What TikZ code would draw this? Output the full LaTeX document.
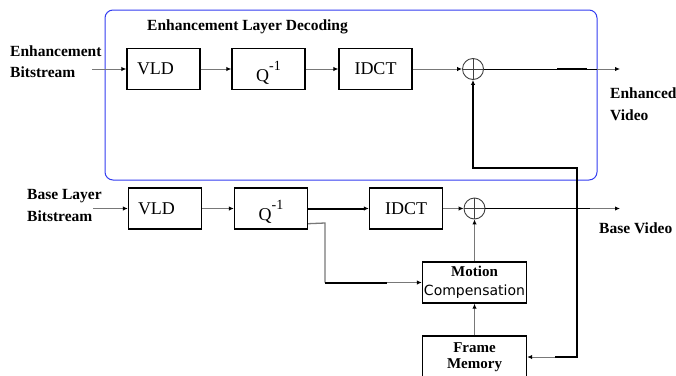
\documentclass[tikz,border=0pt]{standalone}
\usepackage{fontspec}
\setmainfont{Liberation Serif}
\newfontfamily\dvsans{DejaVu Sans}
\usetikzlibrary{arrows.meta,calc}
\definecolor{ln}{RGB}{120,120,120}
\definecolor{frameblue}{RGB}{50,60,240}
\newcommand\qinv{Q\raisebox{11pt}{\fontsize{14}{14}\selectfont -1}}
\begin{document}
\begin{tikzpicture}[x=1pt,y=-1pt,
 blk/.style={draw=black,line width=1.4pt,minimum width=73pt,minimum height=41pt,inner sep=0pt,font=\fontsize{18}{20}\selectfont},
 qblk/.style={blk,text height=24pt,text depth=0pt},
 sumc/.style={circle,draw=black!75,line width=0.9pt,minimum size=21pt,inner sep=0pt},
 lbl/.style={font=\bfseries\fontsize{15.5}{21}\selectfont,align=left,inner sep=0pt},
 g/.style={draw=ln,line width=1pt},
 k/.style={draw=black,line width=2pt},
 tip/.style={-{Latex[length=5pt,width=4.5pt,color=black]}},
]
\useasboundingbox (0,0) rectangle (676,375);
\clip (0,0) rectangle (676,375);

% enhancement layer enclosure
\node[draw=frameblue,line width=1pt,rounded corners=8pt,minimum width=492pt,minimum height=170pt,inner sep=0pt] (enh) at (351,95) {};
\node[lbl,anchor=west] (title) at (147,27) {Enhancement Layer Decoding};

% enhancement row
\node[blk,text width=53pt,inner xsep=10pt,align=left] (eVLD) at (163.5,69) {VLD};
\node[qblk] (eQ) at (268.5,69) {\qinv};
\node[blk] (eIDCT) at (375.5,69) {IDCT};
\node[sumc] (eS) at (473,69) {};
\draw[black!75,line width=0.9pt] (eS.north) -- (eS.south) (eS.west) -- (eS.east);

% base row
\node[blk,text width=54pt,inner xsep=9pt,align=left] (bVLD) at (165,208.5) {VLD};
\node[qblk] (bQ) at (271,208.5) {\qinv};
\node[blk] (bIDCT) at (406,208.5) {IDCT};
\node[sumc] (bS) at (474.5,208.5) {};
\draw[black!75,line width=0.9pt] (bS.north) -- (bS.south) (bS.west) -- (bS.east);

\node[blk,minimum width=104pt,align=center,font=\bfseries\fontsize{15}{19}\selectfont] (MC) at (474.5,282.5)
  {Motion\\{\dvsans\mdseries\fontsize{14}{19}\selectfont Compensation}};
\node[blk,minimum width=104pt,minimum height=42pt,align=center,font=\bfseries\fontsize{15}{16}\selectfont] (FM) at (474.5,357)
  {Frame\\Memory};

% labels
\node[lbl,anchor=west] (eInL) at (10,61.5) {Enhancement\\Bitstream};
\node[lbl,anchor=west,font=\bfseries\fontsize{15.5}{22}\selectfont] (bInL) at (27,205) {Base Layer\\Bitstream};
\node[lbl,anchor=west,font=\bfseries\fontsize{15.5}{22}\selectfont] (eOutL) at (610,104) {Enhanced\\Video};
\node[lbl,anchor=west] (bOutL) at (599,228) {Base Video};

% enhancement connectors
\coordinate (eIn) at (92,69);
\draw[g,tip] (eIn) -- (eVLD.west);
\draw[g,tip] (eVLD) -- (eQ);
\draw[g,tip] (eQ) -- (eIDCT);
\draw[g,tip] (eIDCT) -- (eS);
\coordinate (eA) at (557,69);
\coordinate (eB) at (587,69);
\coordinate (eC) at (597,69);
\coordinate (eOut) at (620,69);
\draw[black,line width=1pt] (eS.east) -- (eC);
\draw[k] (eA) -- (eB);
\draw[g,tip] (eC) -- (eOut);

% feedback
\coordinate (f1) at (555,357);
\coordinate (f2) at (577,357);
\coordinate (f3) at (577,168);
\coordinate (f4) at (473,168);
\draw[k,tip] (f1) -- (f2) -- (f3) -- (f4) -- (eS.south);
\draw[g,tip] (f1) -- (FM.east);

% base connectors
\coordinate (bIn) at (93,208.5);
\draw[g,tip] (bIn) -- (bVLD.west);
\draw[g,tip] (bVLD) -- (bQ);
\draw[k,tip] (bQ.east) -- (bIDCT.west);
\draw[g,tip] (bIDCT) -- (bS);
\coordinate (bC) at (590,208.5);
\coordinate (bOut) at (620,208.5);
\draw[black,line width=1pt] (bS.east) -- (bC);
\draw[g,tip] (bC) -- (bOut);

\coordinate (q0) at ($(bQ.south east)+(0,-6)$);
\coordinate (q1) at (325,223);
\coordinate (q2) at (325,282.5);
\coordinate (q3) at (387,282.5);
\draw[g,line width=1.3pt] (q0) -- (q1) -- (q2);
\draw[k] (q2) -- (q3);
\draw[g,tip] (q3) -- (MC.west);

\draw[g,tip] (MC) -- (bS);
\draw[g,tip] (FM) -- (MC);
\end{tikzpicture}
\end{document}
